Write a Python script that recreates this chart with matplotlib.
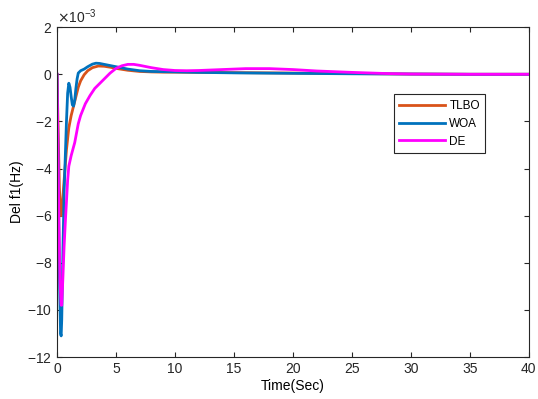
import numpy as np
import matplotlib.pyplot as plt
from matplotlib.ticker import ScalarFormatter

plt.rcParams['font.family'] = ['Liberation Sans', 'DejaVu Sans']
plt.rcParams['axes.unicode_minus'] = False

# data (values in units of 1e-3 Hz)
t_tlbo = [0, 0.1, 0.2, 0.3, 0.35, 0.4, 0.5, 0.6, 0.8, 1.0, 1.2, 1.4, 1.6, 1.8, 2.0,
          2.3, 2.6, 3.0, 3.5, 4.0, 4.5, 5, 6, 7, 8, 9, 10, 12, 15, 20, 25, 30, 35, 40]
tlbo = [0, -2.5, -4.8, -5.9, -6.0, -5.8, -5.2, -4.5, -3.2, -2.27, -1.75, -1.35, -0.95, -0.55, -0.28,
        -0.02, 0.15, 0.28, 0.35, 0.34, 0.3, 0.25, 0.17, 0.12, 0.1, 0.09, 0.09, 0.08, 0.07, 0.05, 0.03, 0.01, 0.0, 0.0]

t_woa = [0, 0.1, 0.2, 0.3, 0.35, 0.4, 0.5, 0.6, 0.7, 0.8, 0.9, 1.0, 1.1, 1.2, 1.3, 1.4,
         1.5, 1.6, 1.7, 1.8, 2.0, 2.3, 2.6, 3.0, 3.3, 3.6, 4.0, 4.5, 5, 6, 7, 8, 10, 12,
         15, 20, 25, 30, 35, 40]
woa = [0, -4.0, -8.5, -11.0, -11.1, -10.4, -7.5, -5.0, -3.5, -2.0, -0.8, -0.38, -0.55, -0.95, -1.3, -1.35,
       -1.1, -0.6, -0.2, 0.05, 0.15, 0.22, 0.32, 0.43, 0.47, 0.46, 0.42, 0.37, 0.32, 0.22, 0.15, 0.12, 0.1, 0.08,
       0.06, 0.04, 0.02, 0.01, 0.0, 0.0]

t_de = [0, 0.05, 0.15, 0.25, 0.35, 0.4, 0.5, 0.6, 0.7, 0.8, 0.9, 1.0, 1.2, 1.5, 1.8, 2.0,
        2.4, 2.8, 3.2, 3.6, 4.0, 4.5, 5, 5.5, 6, 6.5, 7, 8, 9, 10, 11, 12, 14, 16, 18, 20,
        22, 25, 28, 30, 35, 40]
de = [0, -2.0, -6.0, -8.8, -9.8, -9.8, -8.6, -7.3, -6.3, -5.4, -4.5, -3.9, -3.45, -2.9, -2.1, -1.75,
      -1.25, -0.9, -0.6, -0.4, -0.2, 0.05, 0.25, 0.36, 0.42, 0.42, 0.38, 0.28, 0.2, 0.16, 0.15, 0.16, 0.2, 0.24, 0.24, 0.2,
      0.14, 0.08, 0.03, 0.01, 0.0, 0.0]

fig = plt.figure(figsize=(5.38, 3.99), dpi=100)
ax = fig.add_axes([0.106, 0.105, 0.877, 0.827])

ax.plot(t_tlbo, np.array(tlbo) * 1e-3, color='#D95319', lw=2, label='TLBO')
ax.plot(t_woa, np.array(woa) * 1e-3, color='#0072BD', lw=2, label='WOA')
ax.plot(t_de, np.array(de) * 1e-3, color='#FF00FF', lw=2, label='DE')

ax.set_xlim(0, 40)
ax.set_ylim(-12e-3, 2e-3)
ax.set_xticks(np.arange(0, 41, 5))
ax.set_yticks(np.arange(-12e-3, 2.1e-3, 2e-3))

fmt = ScalarFormatter(useMathText=True)
fmt.set_powerlimits((-3, -3))
ax.yaxis.set_major_formatter(fmt)

ax.tick_params(direction='in', top=True, right=True, labelsize=10, colors='#262626')
for s in ax.spines.values():
    s.set_color('#262626')
    s.set_linewidth(0.8)

ax.set_xlabel('Time(Sec)', fontsize=10, labelpad=2)
ax.set_ylabel('Del f1(Hz)', fontsize=10, labelpad=2)

leg = ax.legend(loc='upper left', bbox_to_anchor=(0.714, 0.796), fontsize=8.5,
                fancybox=False, edgecolor='#262626', framealpha=1,
                handlelength=3.9, handletextpad=0.35, borderpad=0.45,
                labelspacing=0.5, borderaxespad=0)
leg.get_frame().set_linewidth(0.8)

fig.savefig('out.png', dpi=100)
